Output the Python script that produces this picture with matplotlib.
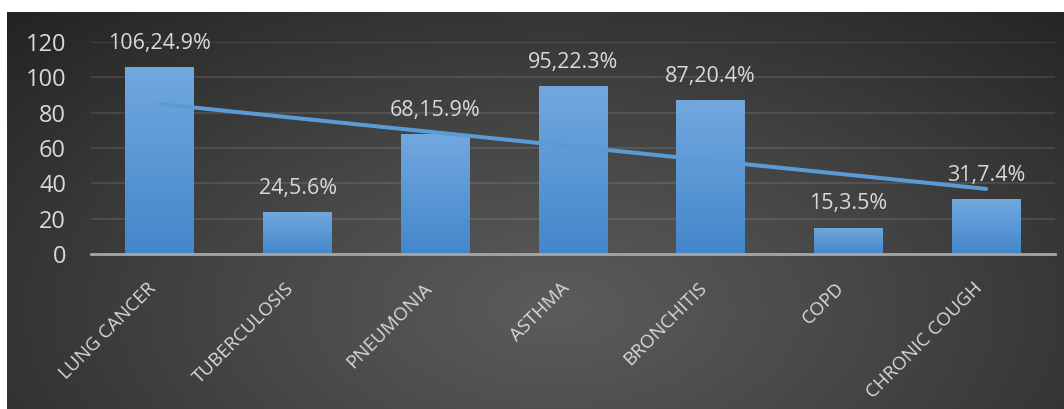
import numpy as np
import matplotlib.pyplot as plt
from matplotlib.patches import Rectangle

# datos
enfermedades = ['LUNG CANCER', 'TUBERCULOSIS', 'PNEUMONIA', 'ASTHMA',
                'BRONCHITIS', 'COPD', 'CHRONIC COUGH']
casos = [106, 24, 68, 95, 87, 15, 31]
porcentajes = ['24.9%', '5.6%', '15.9%', '22.3%', '20.4%', '3.5%', '7.4%']
yticks = [0, 20, 40, 60, 80, 100, 120]

W, H = 1064, 409
fig = plt.figure(figsize=(W / 100, H / 100), dpi=100)
fig.patch.set_facecolor('white')
plt.rcParams['font.family'] = ['Open Sans', 'DejaVu Sans']

# fondo oscuro con degradado radial
bg = fig.add_axes([7 / W, 0, 1 - 7 / W, 1 - 12 / H])
gx, gy = np.meshgrid(np.linspace(0, 1, 400), np.linspace(0, 1, 200))
d = np.sqrt(((gx - 0.52) / 0.72) ** 2 + ((gy - 0.75) / 1.05) ** 2)
d = np.clip(d, 0, 1)
c0, c1 = 0x5b / 255, 0x24 / 255
shade = c0 + (c1 - c0) * d ** 1.1
img = np.dstack([shade, shade, shade])
bg.imshow(img, aspect='auto', extent=[0, 1, 0, 1], origin='upper')
bg.set_axis_off()

# area del grafico
x0, x1 = 91, 1055
y_top, y_bot = 42, 254
ax = fig.add_axes([x0 / W, (H - y_bot) / H, (x1 - x0) / W, (y_bot - y_top) / H])
ax.patch.set_alpha(0)

for s in ['top', 'right', 'left']:
    ax.spines[s].set_visible(False)
ax.spines['bottom'].set_color('#a6a6a6')
ax.spines['bottom'].set_linewidth(2)
ax.spines['bottom'].set_zorder(5)

ax.set_yticks(yticks)
ax.yaxis.grid(True, color='#ffffff', alpha=0.1, linewidth=1.5)
ax.set_axisbelow(True)
ax.tick_params(axis='y', length=0, pad=18, labelsize=17, labelcolor='#d9d9d9')

x = np.arange(len(casos))
ax.set_xticks(x)
ax.set_xticklabels(enfermedades, rotation=45, ha='right', va='top')
ax.tick_params(axis='x', length=0, pad=18, labelsize=13.5, labelcolor='#d9d9d9')

# barras con degradado
grad = np.linspace(0, 1, 256).reshape(-1, 1)
cmap = plt.matplotlib.colors.LinearSegmentedColormap.from_list(
    'azul', ['#72a8de', '#4387cb'])
bars = ax.bar(x, casos, width=0.5, color='none', zorder=2)
for b in bars:
    bx, by = b.get_x(), b.get_y()
    bw, bh = b.get_width(), b.get_height()
    im = ax.imshow(grad, cmap=cmap, aspect='auto', zorder=2, origin='upper',
                   extent=[bx, bx + bw, by, by + bh])
    clip = Rectangle((bx, by), bw, bh, transform=ax.transData)
    im.set_clip_path(clip)
ax.set_xlim(-0.5, len(casos) - 0.5)
ax.set_ylim(0, 120)

# etiquetas de datos
for xi, v, p in zip(x, casos, porcentajes):
    ax.annotate(f'{v},{p}', (xi, v), xytext=(0, 13), textcoords='offset points',
                ha='center', va='baseline', fontsize=15.5, color='#d9d9d9',
                annotation_clip=False)

# linea de tendencia lineal
m, b = np.polyfit(x, casos, 1)
ax.plot(x, m * x + b, color='#5b9bd5', linewidth=2.9, zorder=3,
        solid_capstyle='round')

fig.savefig('out.png', dpi=100)
